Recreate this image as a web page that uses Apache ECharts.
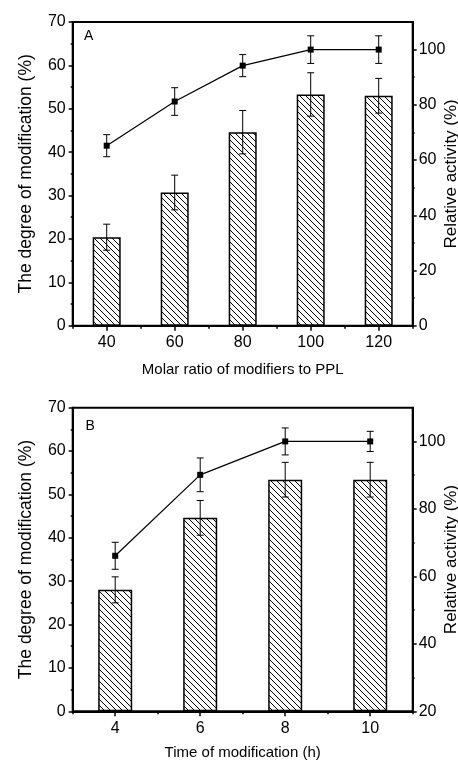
<!DOCTYPE html>
<html>
<head>
<meta charset="utf-8">
<script src="https://cdn.jsdelivr.net/npm/echarts@6/dist/echarts.min.js"></script>
<style>
html,body{margin:0;padding:0;background:#fff;overflow:hidden;}
#chart{width:458px;height:761px;}
</style>
</head>
<body>
<div id="chart"></div>
<script>
// ---- Data ----
const ratioCats = [40, 60, 80, 100, 120];
const degreeA = [20.4, 30.7, 44.6, 53.3, 53.0];
const degreeAErr = [3, 4, 5, 5, 4];
const activityA = [65.2, 81.2, 94.2, 100, 100];
const activityAErr = [4, 5, 4, 5, 5];

const timeCats = [4, 6, 8, 10];
const degreeB = [28.0, 44.6, 53.4, 53.4];
const degreeBErr = [3, 4, 4, 4];
const activityB = [66.1, 90.1, 100, 100];
const activityBErr = [4, 5, 4, 3];

// tick labels
const xMinorA = [30, 50, 70, 90, 110, 130];
const xMinorB = [3, 5, 7, 9, 11];
const rightTicksA = [0, 20, 40, 60, 80, 100];
const rightMinorA = [10, 30, 50, 70, 90];
const rightTicksB = [20, 40, 60, 80, 100];
const rightMinorB = [30, 50, 70, 90];

const FONT = '"Liberation Sans", Arial, sans-serif';

// hatch pattern
function makeHatch() {
  const s = 6;
  const c = document.createElement('canvas');
  c.width = s; c.height = s;
  const ctx = c.getContext('2d');
  ctx.fillStyle = '#fff';
  ctx.fillRect(0, 0, s, s);
  ctx.strokeStyle = '#000';
  ctx.lineWidth = 1;
  ctx.beginPath();
  ctx.moveTo(-1, -1); ctx.lineTo(s + 1, s + 1);
  ctx.moveTo(-1, s - 1); ctx.lineTo(1, s + 1);
  ctx.moveTo(s - 1, -1); ctx.lineTo(s + 1, 1);
  ctx.stroke();
  return c;
}
const hatch = makeHatch();

const chart = echarts.init(document.getElementById('chart'), null, {renderer: 'canvas'});

const black = '#000';
const tickStyle = {color: black, width: 1.5};

function mainX(grid, min, max, ticks, name, gap) {
  return {
    gridIndex: grid, type: 'value', position: 'bottom', min: min, max: max,
    axisLine: {show: true, onZero: false, lineStyle: {color: black, width: 2}},
    axisTick: {show: true, customValues: ticks, length: 5, lineStyle: tickStyle},
    axisLabel: {customValues: ticks, fontSize: 16, color: black, fontFamily: FONT, margin: 9},
    splitLine: {show: false},
    name: name, nameLocation: 'middle', nameGap: gap, nameMoveOverlap: false,
    nameTextStyle: {fontSize: 15, color: black, fontFamily: FONT}
  };
}
function minorX(grid, min, max, ticks) {
  return {
    gridIndex: grid, type: 'value', position: 'bottom', min: min, max: max,
    axisLine: {show: false},
    axisTick: {show: true, customValues: ticks, length: 3, lineStyle: tickStyle},
    axisLabel: {show: false}, splitLine: {show: false}
  };
}
function leftY(grid) {
  return {
    gridIndex: grid, type: 'value', position: 'left', min: 0, max: 70, interval: 10,
    axisLine: {show: true, onZero: false, lineStyle: {color: black, width: 2}},
    axisTick: {show: true, length: 4, lineStyle: tickStyle},
    minorTick: {show: true, splitNumber: 2, length: 2, lineStyle: tickStyle},
    axisLabel: {fontSize: 16, color: black, fontFamily: FONT, margin: 7},
    splitLine: {show: false},
    name: 'The degree of modification (%)', nameLocation: 'middle', nameGap: 38, nameMoveOverlap: false,
    nameTextStyle: {fontSize: 17.5, color: black, fontFamily: FONT}
  };
}
function rightY(grid, min, ticks) {
  return {
    gridIndex: grid, type: 'value', position: 'right', min: min, max: 110,
    axisLine: {show: true, onZero: false, lineStyle: {color: black, width: 2}},
    axisTick: {show: true, customValues: ticks, length: 4, lineStyle: tickStyle},
    axisLabel: {customValues: ticks, fontSize: 16, color: black, fontFamily: FONT, margin: 6},
    splitLine: {show: false},
    name: 'Relative activity (%)', nameLocation: 'middle', nameGap: 30.5, nameMoveOverlap: false,
    nameTextStyle: {fontSize: 17, color: black, fontFamily: FONT}
  };
}
function minorY(grid, min, ticks) {
  return {
    gridIndex: grid, type: 'value', position: 'right', min: min, max: 110,
    axisLine: {show: false},
    axisTick: {show: true, customValues: ticks, length: 2, lineStyle: tickStyle},
    axisLabel: {show: false}, splitLine: {show: false}
  };
}

function pairs(xs, ys) { return xs.map((x, i) => [x, ys[i]]); }
function triples(xs, ys, es) { return xs.map((x, i) => [x, ys[i], es[i]]); }

function errRender(params, api) {
  const x = api.value(0), y = api.value(1), e = api.value(2);
  const t = api.coord([x, y + e]);
  const b = api.coord([x, y - e]);
  const w = 3.5;
  const st = {stroke: black, lineWidth: 1};
  return {
    type: 'group',
    children: [
      {type: 'line', shape: {x1: t[0], y1: t[1], x2: b[0], y2: b[1]}, style: st},
      {type: 'line', shape: {x1: t[0] - w, y1: t[1], x2: t[0] + w, y2: t[1]}, style: st},
      {type: 'line', shape: {x1: b[0] - w, y1: b[1], x2: b[0] + w, y2: b[1]}, style: st}
    ]
  };
}

function barSeries(xi, yi, data, width) {
  return {
    type: 'bar', xAxisIndex: xi, yAxisIndex: yi, data: data, barWidth: width,
    itemStyle: {color: {image: hatch, repeat: 'repeat'}, borderColor: black, borderWidth: 1.5},
    z: 2
  };
}
function errSeries(xi, yi, data) {
  return {type: 'custom', xAxisIndex: xi, yAxisIndex: yi, data: data, renderItem: errRender,
    encode: {x: 0, y: 1}, z: 4, clip: false};
}
function lineSeries(xi, yi, data) {
  return {type: 'line', xAxisIndex: xi, yAxisIndex: yi, data: data,
    symbol: 'rect', symbolSize: 6, showAllSymbol: true,
    itemStyle: {color: black}, lineStyle: {color: black, width: 1.2}, z: 5};
}

const gridCommon = {left: 72.7, right: 45.3, show: true, borderColor: black, borderWidth: 2,
  backgroundColor: 'transparent', containLabel: false, outerBoundsMode: 'none'};

const option = {
  animation: false,
  backgroundColor: '#fff',
  textStyle: {fontFamily: FONT},
  grid: [
    Object.assign({}, gridCommon, {top: 22, height: 303.7}),
    Object.assign({}, gridCommon, {top: 407.7, height: 303.6})
  ],
  xAxis: [
    mainX(0, 30, 130, ratioCats, 'Molar ratio of modifiers to PPL', 37),
    minorX(0, 30, 130, xMinorA),
    mainX(1, 3, 11, timeCats, 'Time of modification (h)', 34),
    minorX(1, 3, 11, xMinorB)
  ],
  yAxis: [
    leftY(0),
    rightY(0, 0, rightTicksA),
    minorY(0, 0, rightMinorA),
    leftY(1),
    rightY(1, 20, rightTicksB),
    minorY(1, 20, rightMinorB)
  ],
  graphic: [
    {type: 'text', left: 84, top: 29, style: {text: 'A', fontSize: 14, fill: black, fontFamily: FONT}},
    {type: 'text', left: 85.5, top: 419, style: {text: 'B', fontSize: 14, fill: black, fontFamily: FONT}}
  ],
  series: [
    barSeries(0, 0, pairs(ratioCats, degreeA), 28),
    errSeries(0, 0, triples(ratioCats, degreeA, degreeAErr)),
    lineSeries(0, 1, pairs(ratioCats, activityA)),
    errSeries(0, 1, triples(ratioCats, activityA, activityAErr)),
    barSeries(2, 3, pairs(timeCats, degreeB), 34),
    errSeries(2, 3, triples(timeCats, degreeB, degreeBErr)),
    lineSeries(2, 4, pairs(timeCats, activityB)),
    errSeries(2, 4, triples(timeCats, activityB, activityBErr))
  ]
};
chart.setOption(option);
</script>
</body>
</html>
